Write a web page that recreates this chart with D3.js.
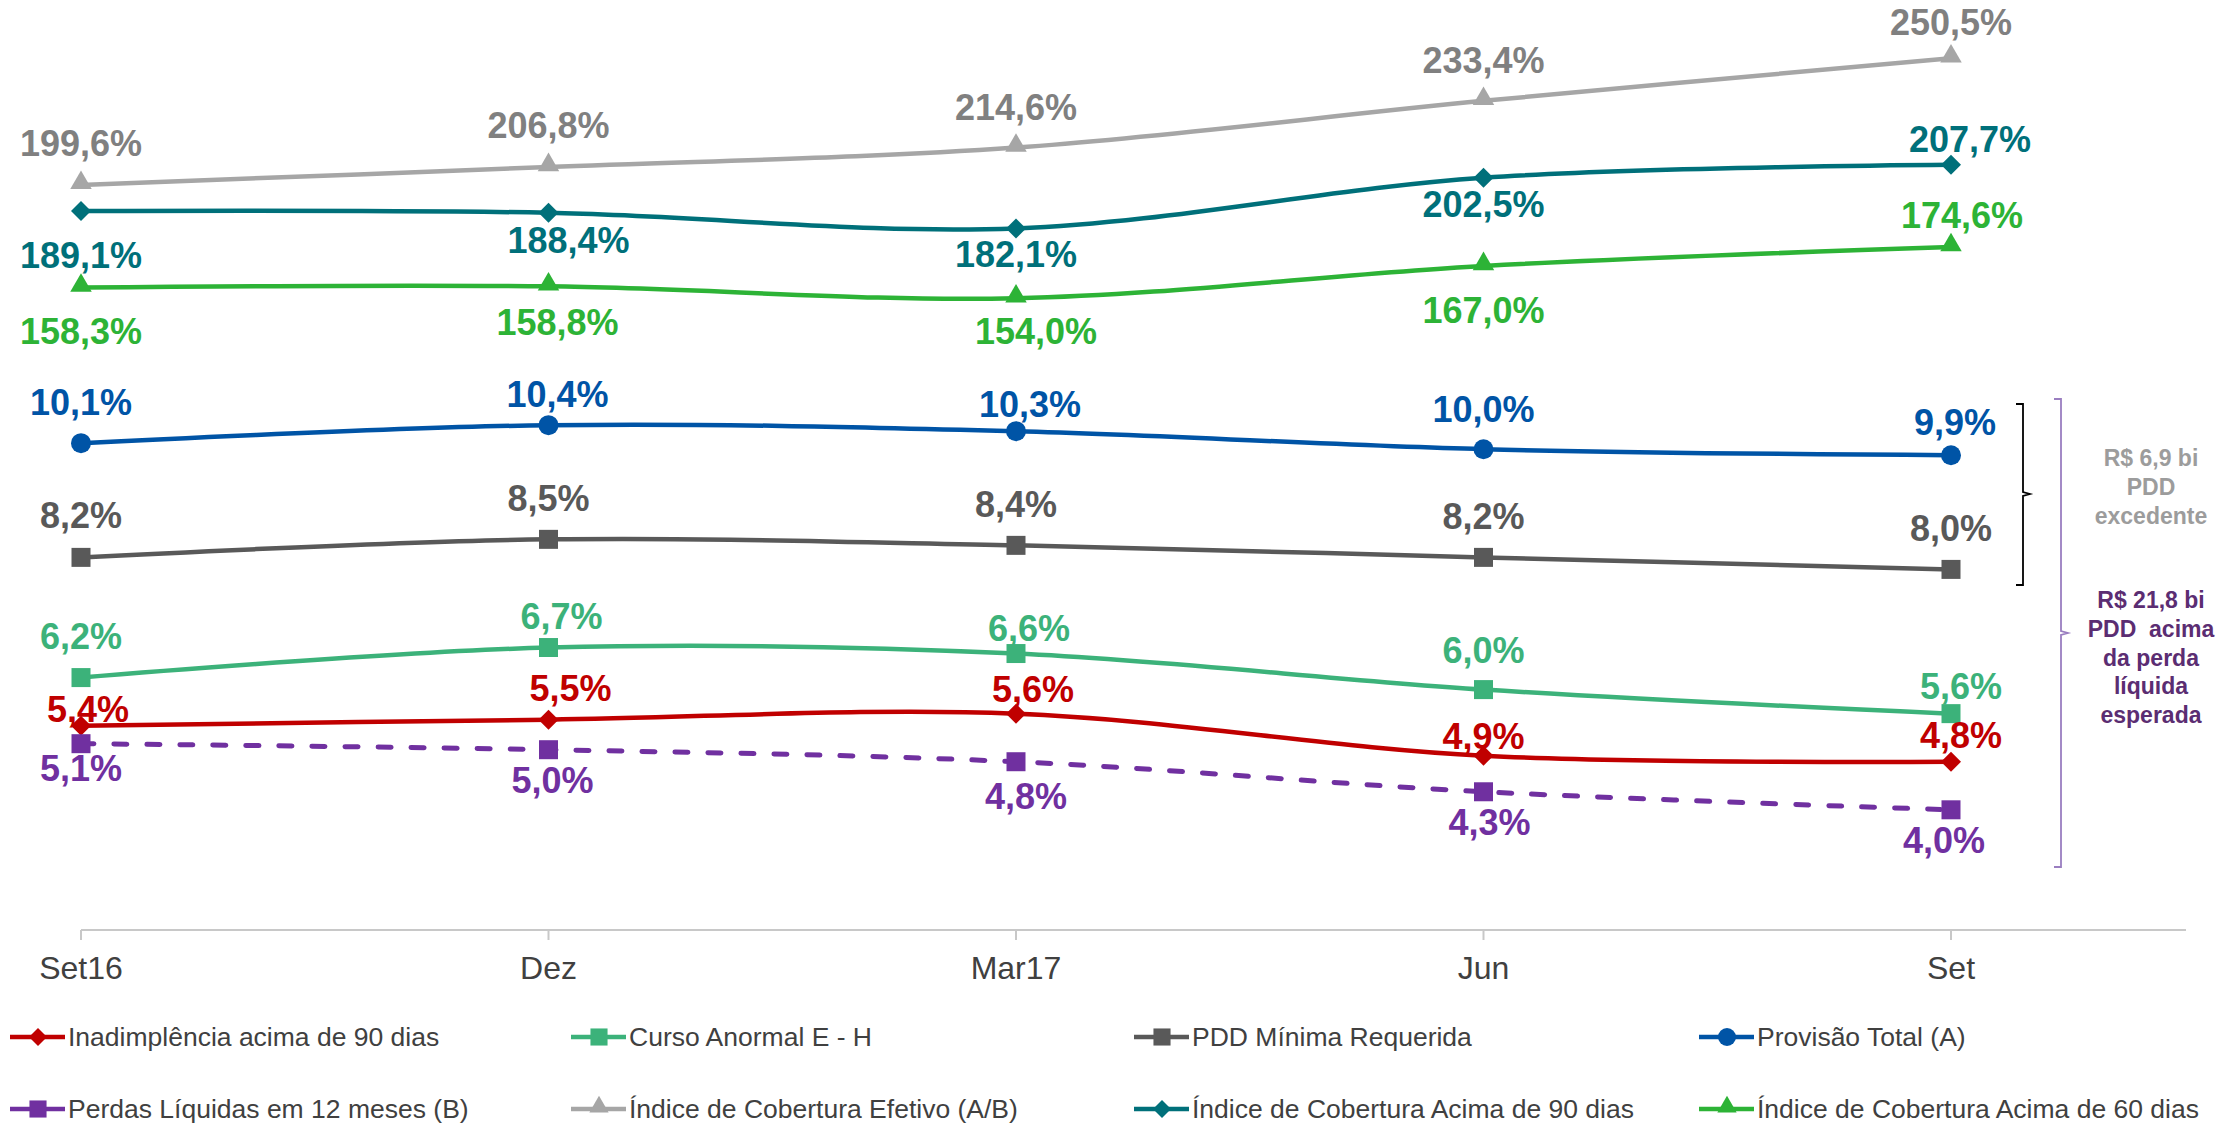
<!DOCTYPE html>
<html>
<head>
<meta charset="utf-8">
<script src="https://cdnjs.cloudflare.com/ajax/libs/d3/7.8.5/d3.min.js"></script>
<style>
  body { margin: 0; background: #fff; }
  svg { display: block; font-family: "Liberation Sans", Arial, sans-serif; }
</style>
</head>
<body>
<div id="chart"></div>
<script>
// quarters
const categories = ["Set16", "Dez", "Mar17", "Jun", "Set"];

// left axis series (% of portfolio)
const inadimplencia = [5.4, 5.5, 5.6, 4.9, 4.8];
const cursoAnormal = [6.2, 6.7, 6.6, 6.0, 5.6];
const pddMinima = [8.2, 8.5, 8.4, 8.2, 8.0];
const provisaoTotal = [10.1, 10.4, 10.3, 10.0, 9.9];
const perdasLiquidas = [5.1, 5.0, 4.8, 4.3, 4.0];

// right axis series (coverage ratios)
const coberturaEfetivo = [199.6, 206.8, 214.6, 233.4, 250.5];
const cobertura90 = [189.1, 188.4, 182.1, 202.5, 207.7];
const cobertura60 = [158.3, 158.8, 154.0, 167.0, 174.6];

const legendNames = [
  "Inadimplência acima de 90 dias", "Curso Anormal E - H", "PDD Mínima Requerida", "Provisão Total (A)",
  "Perdas Líquidas em 12 meses (B)", "Índice de Cobertura Efetivo (A/B)",
  "Índice de Cobertura Acima de 90 dias", "Índice de Cobertura Acima de 60 dias"
];

const width = 2224, height = 1124;
const axisY = 930;

const series = [
  { name: legendNames[0], values: inadimplencia, axis: "left", color: "#c00000", label: "#c00000", symbol: "diamond",
    off: [[7, -17], [22, -32], [17, -25], [0, -20], [10, -27]] },
  { name: legendNames[1], values: cursoAnormal, axis: "left", color: "#3cb27a", label: "#3cb27a", symbol: "square",
    off: [[0, -42], [13, -32], [13, -26], [0, -40], [10, -28]] },
  { name: legendNames[2], values: pddMinima, axis: "left", color: "#595959", label: "#595959", symbol: "square",
    off: [[0, -42], [0, -41], [0, -41], [0, -41], [0, -41]] },
  { name: legendNames[3], values: provisaoTotal, axis: "left", color: "#0054a6", label: "#0054a6", symbol: "circle",
    off: [[0, -41], [9, -31], [14, -27], [0, -40], [4, -33]] },
  { name: legendNames[4], values: perdasLiquidas, axis: "left", color: "#7030a0", label: "#7030a0", symbol: "square", dash: true,
    off: [[0, 24], [4, 30], [10, 34], [6, 30], [-7, 30]] },
  { name: legendNames[5], values: coberturaEfetivo, axis: "right", color: "#a6a6a6", label: "#808080", symbol: "triangle",
    off: [[0, -42], [0, -42], [0, -41], [0, -41], [0, -36]] },
  { name: legendNames[6], values: cobertura90, axis: "right", color: "#00707a", label: "#00707a", symbol: "diamond",
    off: [[0, 44], [20, 27], [0, 26], [0, 26], [19, -26]] },
  { name: legendNames[7], values: cobertura60, axis: "right", color: "#2db336", label: "#2db336", symbol: "triangle",
    off: [[0, 43], [9, 36], [20, 33], [0, 44], [11, -32]] }
];

const x = d3.scalePoint().domain(categories).range([81, 1951]);
const yLeft = d3.scaleLinear().domain([2, 17.5]).range([axisY, axisY - 15.5 * 60.1]);
const yRight = d3.scaleLinear().domain([-100, 274]).range([axisY, axisY - 374 * 2.487]);

const locale = d3.formatLocale({ decimal: ",", thousands: ".", grouping: [3], currency: ["R$", ""] });
const fmt = v => locale.format(".1f")(v) + "%";

const symbols = {
  circle: d3.symbol(d3.symbolCircle, 314),
  square: d3.symbol(d3.symbolSquare, 361),
  diamond: d3.symbol(d3.symbolSquare, 200),
  triangle: d3.symbol(d3.symbolTriangle, 200)
};

function drawMarker(g, type, color, scale = 1) {
  const s = d3.symbol(symbols[type].type(), symbols[type].size()() * scale * scale);
  const p = g.append("path").attr("d", s).attr("fill", color);
  if (type === "diamond") p.attr("transform", "rotate(45)");
  if (type === "triangle") p.attr("transform", "translate(0,-2)");
  return p;
}

const svg = d3.select("#chart").append("svg")
  .attr("width", width).attr("height", height)
  .style("background", "#fff");

// x axis
svg.append("line")
  .attr("x1", x(categories[0])).attr("x2", 2186)
  .attr("y1", axisY).attr("y2", axisY)
  .attr("stroke", "#c8c8c8").attr("stroke-width", 2);
svg.selectAll(".tick").data(categories).enter().append("line")
  .attr("x1", d => x(d)).attr("x2", d => x(d))
  .attr("y1", axisY).attr("y2", axisY + 10)
  .attr("stroke", "#c8c8c8").attr("stroke-width", 2);
svg.selectAll(".xlabel").data(categories).enter().append("text")
  .attr("x", d => x(d)).attr("y", axisY + 49)
  .attr("text-anchor", "middle")
  .attr("font-size", 32).attr("fill", "#404040")
  .text(d => d);

// lines
const line = d3.line().curve(d3.curveCardinal.tension(0));
series.forEach(s => {
  const y = s.axis === "left" ? yLeft : yRight;
  const pts = s.values.map((v, i) => [x(categories[i]), y(v)]);
  svg.append("path")
    .attr("d", line(pts))
    .attr("fill", "none")
    .attr("stroke", s.color)
    .attr("stroke-width", s.dash ? 5 : 4.5)
    .attr("stroke-linecap", s.dash ? "round" : "butt")
    .attr("stroke-dasharray", s.dash ? "13 20" : null);
});

// markers
series.forEach(s => {
  const y = s.axis === "left" ? yLeft : yRight;
  s.values.forEach((v, i) => {
    const g = svg.append("g").attr("transform", `translate(${x(categories[i])},${y(v)})`);
    drawMarker(g, s.symbol, s.color);
  });
});

// data labels
series.forEach(s => {
  const y = s.axis === "left" ? yLeft : yRight;
  svg.append("g").selectAll("text").data(s.values).enter().append("text")
    .attr("x", (v, i) => x(categories[i]) + s.off[i][0])
    .attr("y", (v, i) => y(v) + s.off[i][1] + 13)
    .attr("text-anchor", "middle")
    .attr("font-size", 36).attr("font-weight", "bold")
    .attr("fill", s.label)
    .text(v => fmt(v));
});

// brackets on the right
function bracket(xb, top, bottom, mid, color, w) {
  const p = d3.path();
  p.moveTo(xb - 7, top);
  p.lineTo(xb, top);
  p.lineTo(xb, mid - 2);
  p.lineTo(xb + 7, mid);
  p.lineTo(xb, mid + 2);
  p.lineTo(xb, bottom);
  p.lineTo(xb - 7, bottom);
  svg.append("path").attr("d", p.toString()).attr("fill", "none")
    .attr("stroke", color).attr("stroke-width", w);
}
bracket(2023, 404, 585, 494, "#000", 1.8);
bracket(2061, 399, 867, 633, "#9a7ec0", 1.8);

const note1 = ["R$ 6,9 bi", "PDD", "excedente"];
svg.append("g").selectAll("text").data(note1).enter().append("text")
  .attr("x", 2151).attr("y", (d, i) => 466 + i * 29)
  .attr("text-anchor", "middle").attr("font-size", 23).attr("font-weight", "bold")
  .attr("fill", "#9c9c9c").text(d => d);

const note2 = ["R$ 21,8 bi", "PDD  acima", "da perda", "líquida", "esperada"];
svg.append("g").selectAll("text").data(note2).enter().append("text")
  .attr("x", 2151).attr("y", (d, i) => 608 + i * 28.8)
  .attr("text-anchor", "middle").attr("font-size", 23).attr("font-weight", "bold")
  .attr("fill", "#5b2d72").attr("xml:space", "preserve").style("white-space", "pre")
  .text(d => d);

// legend
const legX = [10, 571, 1134, 1699];
const legY = [1037, 1109];
series.forEach((s, i) => {
  const lx = legX[i % 4], ly = legY[Math.floor(i / 4)];
  const g = svg.append("g").attr("transform", `translate(${lx},${ly})`);
  g.append("line").attr("x1", 0).attr("x2", 55).attr("y1", 0).attr("y2", 0)
    .attr("stroke", s.color).attr("stroke-width", 4.5);
  const m = g.append("g").attr("transform", "translate(28,0)");
  drawMarker(m, s.symbol, s.color, 0.9);
  g.append("text").attr("x", 58).attr("y", 9)
    .attr("font-size", 26.5).attr("fill", "#404040").text(s.name);
});
</script>
</body>
</html>
